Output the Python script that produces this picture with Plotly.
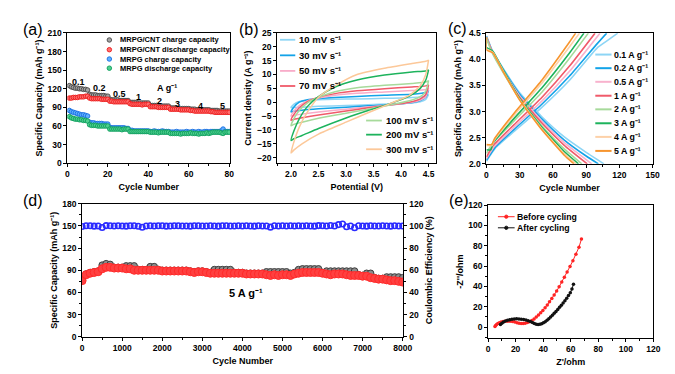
import plotly.graph_objects as go

W, H = 675, 374
FONT = "Liberation Sans, Arial, Helvetica, sans-serif"
SUP = "\u207b\u00b9"  # superscript minus one

# ---------------- (a) rate capability ----------------
cycle_a = list(range(1, 81))
cnt_charge = [125, 123, 122, 121, 121, 120, 120, 119, 119, 118,
              111, 110, 110, 110, 109, 109, 109, 109, 108, 108,
              103, 102, 102, 102, 102, 101, 101, 101, 101, 101,
              98, 98, 98, 98, 97, 97, 97, 97, 97, 97,
              93, 93, 93, 93, 93, 92, 92, 92, 92, 92,
              89, 89, 89, 89, 88, 88, 88, 88, 88, 88,
              87, 87, 87, 86, 86, 86, 86, 86, 86, 86,
              85, 85, 85, 85, 84, 84, 84, 84, 84, 84]
cnt_discharge = [105, 105, 106, 106, 106, 107, 107, 107, 108, 108,
                 105, 104, 104, 104, 104, 104, 103, 103, 103, 103,
                 100, 100, 99, 99, 99, 99, 99, 99, 99, 99,
                 96, 95, 95, 95, 95, 95, 94, 95, 95, 95,
                 91, 91, 91, 91, 90, 90, 90, 90, 90, 90,
                 87, 87, 87, 87, 87, 86, 86, 86, 86, 86,
                 85, 85, 84, 84, 84, 84, 84, 84, 84, 84,
                 83, 83, 82, 82, 82, 82, 82, 82, 82, 82]
mrpg_charge = [85, 83, 82, 81, 80, 79, 78, 78, 77, 76,
               66, 65, 65, 64, 64, 64, 64, 63, 63, 63,
               58, 57, 57, 57, 57, 57, 57, 57, 56, 56,
               53, 53, 52, 52, 52, 52, 52, 52, 52, 52,
               51, 51, 52, 51, 51, 51, 52, 51, 51, 51,
               50, 50, 50, 51, 50, 50, 50, 50, 51, 50,
               50, 51, 50, 50, 51, 50, 50, 51, 51, 50,
               51, 51, 51, 51, 51, 52, 55, 51, 51, 51]
mrpg_discharge = [75, 73, 72, 71, 71, 70, 70, 69, 69, 68,
                  62, 61, 61, 61, 60, 60, 60, 60, 60, 60,
                  55, 55, 55, 55, 55, 55, 54, 55, 55, 55,
                  51, 51, 51, 51, 51, 51, 51, 51, 51, 51,
                  50, 50, 50, 50, 49, 50, 50, 50, 50, 50,
                  48, 48, 48, 48, 48, 47, 48, 48, 48, 48,
                  49, 48, 48, 48, 47, 48, 48, 48, 49, 48,
                  49, 50, 50, 50, 50, 49, 48, 50, 50, 50]
rate_text = ["0.1", "0.2", "0.5", "1", "2", "3", "4", "5"]
rate_text_x = [5.7, 15.8, 25.8, 35.2, 45.8, 54.7, 66.0, 76.7]
rate_text_y = [131, 121, 112, 106, 100, 96, 92.5, 92.5]

# ---------------- (b) CV curves ----------------
cv_labels = ["10 mV s" + SUP, "30 mV s" + SUP, "50 mV s" + SUP, "70 mV s" + SUP,
             "100 mV s" + SUP, "200 mV s" + SUP, "300 mV s" + SUP]
cv_up_v = [2.0, 2.05, 2.15, 2.3, 2.5, 2.8, 3.2, 3.7, 4.2, 4.45, 4.5]
cv_down_v = [4.5, 4.45, 4.35, 4.15, 3.8, 3.4, 3.0, 2.5, 2.2, 2.05, 2.0]
cv_up_i = [
    [-2.0, -0.8, 0.3, 0.7, 0.9, 1.05, 1.2, 1.4, 1.7, 2.2, 2.8],
    [-3.5, -1.8, 0.0, 0.9, 1.3, 1.7, 2.1, 2.5, 2.9, 3.5, 4.3],
    [-5.0, -3.3, -1.2, 0.5, 1.5, 2.5, 3.2, 3.7, 4.2, 4.6, 5.0],
    [-6.5, -4.5, -2.0, 0.2, 1.8, 3.1, 4.1, 4.9, 5.5, 5.9, 6.2],
    [-8.5, -6.0, -3.0, -0.2, 1.8, 3.8, 5.2, 6.1, 6.8, 7.3, 7.8],
    [-13.8, -10.5, -6.0, -1.5, 2.0, 5.5, 8.0, 9.8, 10.9, 11.3, 11.6],
    [-18.3, -14.5, -9.0, -3.5, 1.8, 5.9, 10.0, 12.3, 14.0, 14.8, 15.2],
]
cv_down_i = [
    [2.8, 1.0, 0.2, -0.3, -0.6, -0.9, -1.2, -1.5, -1.8, -1.95, -2.0],
    [4.3, 1.8, 0.6, -0.3, -0.9, -1.3, -1.8, -2.4, -2.9, -3.3, -3.5],
    [5.0, 2.0, 0.8, -0.2, -1.0, -1.7, -2.5, -3.5, -4.3, -4.8, -5.0],
    [6.2, 2.8, 1.2, 0.0, -1.0, -2.0, -3.2, -4.6, -5.6, -6.2, -6.5],
    [7.8, 4.0, 2.0, 0.5, -1.0, -2.5, -4.0, -5.8, -7.2, -8.0, -8.5],
    [11.6, 8.0, 5.0, 2.2, -0.5, -3.0, -5.7, -9.5, -12.0, -13.2, -13.8],
    [15.2, 10.0, 6.0, 2.5, -0.5, -3.8, -7.2, -11.5, -15.0, -17.3, -18.3],
]
cv_colors = ["#8dd5f5", "#13a3e8", "#f8acc9", "#f05a6a", "#a7da9b", "#1db35c", "#fcc899"]

# ---------------- (c) charge / discharge ----------------
gcd_labels = ["0.1 A g" + SUP, "0.2 A g" + SUP, "0.5 A g" + SUP, "1 A g" + SUP,
              "2 A g" + SUP, "3 A g" + SUP, "4 A g" + SUP, "5 A g" + SUP]
chg_x = [[0, 8, 25, 50, 75, 100, 110, 118.5],
         [0, 8, 25, 50, 75, 100, 108.5],
         [0, 7, 25, 50, 75, 102.5],
         [0, 6, 25, 50, 75, 98],
         [0, 5, 25, 50, 75, 92],
         [0, 4, 6, 25, 50, 75, 88],
         [0, 5, 7, 25, 50, 75, 84],
         [0, 5, 7, 25, 50, 75, 80.5]]
chg_y = [[2.05, 2.3, 2.62, 3.08, 3.6, 4.22, 4.37, 4.5],
         [2.07, 2.32, 2.66, 3.14, 3.68, 4.3, 4.5],
         [2.1, 2.33, 2.7, 3.2, 3.77, 4.5],
         [2.13, 2.35, 2.75, 3.27, 3.87, 4.5],
         [2.2, 2.38, 2.82, 3.37, 4.02, 4.5],
         [2.27, 2.27, 2.4, 2.87, 3.45, 4.12, 4.5],
         [2.35, 2.35, 2.45, 2.93, 3.54, 4.24, 4.5],
         [2.37, 2.37, 2.47, 2.97, 3.6, 4.33, 4.5]]
dis_x = [[0, 5, 15, 30, 50, 70, 90, 106],
         [0, 5, 15, 30, 50, 70, 90, 101],
         [0, 5, 15, 30, 50, 70, 85, 95],
         [0, 5, 15, 30, 50, 70, 91],
         [0, 5, 15, 30, 50, 70, 86],
         [0, 0, 6, 15, 30, 50, 70, 83],
         [0, 0, 6, 15, 30, 50, 70, 81],
         [0, 0, 6, 15, 30, 50, 70, 79]]
dis_y = [[4.45, 4.18, 3.83, 3.36, 2.9, 2.52, 2.22, 2.0],
         [4.44, 4.17, 3.81, 3.33, 2.86, 2.46, 2.15, 2.0],
         [4.43, 4.16, 3.79, 3.3, 2.82, 2.41, 2.16, 2.0],
         [4.42, 4.15, 3.77, 3.27, 2.78, 2.36, 2.0],
         [4.4, 4.13, 3.75, 3.24, 2.73, 2.29, 2.0],
         [4.42, 4.23, 4.15, 3.8, 3.25, 2.7, 2.24, 2.0],
         [4.42, 4.2, 4.13, 3.78, 3.23, 2.67, 2.2, 2.0],
         [4.42, 4.18, 4.12, 3.77, 3.22, 2.65, 2.17, 2.0]]
gcd_colors = ["#8dd5f5", "#13a3e8", "#f8b2cd", "#f05a6a", "#a7da9b", "#1db35c", "#fdd1a8", "#f7952e"]

# ---------------- (d) long cycling at 5 A/g ----------------
cycle_d = list(range(0, 8001, 100))
d_charge = [77, 85, 87, 88, 89, 97, 99, 98, 94, 94,
            94, 96, 96, 96, 91, 91, 91, 95, 95, 91,
            90, 90, 90, 90, 90, 90, 90, 89, 88, 89,
            89, 88, 87, 91, 91, 91, 91, 91, 87, 87,
            87, 86, 86, 86, 86, 86, 88, 88, 88, 88,
            88, 88, 86, 87, 91, 92, 92, 92, 92, 92,
            87, 89, 89, 89, 89, 89, 89, 89, 89, 84,
            83, 86, 86, 80, 79, 79, 81, 81, 81, 81,
            80]
d_discharge = [76, 84, 86, 87, 88, 92, 94, 94, 93, 93,
               93, 92, 92, 90, 90, 90, 90, 90, 90, 90,
               89, 89, 89, 89, 89, 89, 89, 88, 87, 88,
               88, 87, 86, 86, 86, 86, 86, 86, 86, 86,
               86, 85, 85, 85, 85, 85, 84, 83, 84, 83,
               84, 84, 83, 85, 86, 87, 87, 87, 87, 87,
               86, 85, 84, 85, 85, 85, 84, 83, 83, 83,
               82, 82, 80, 79, 78, 78, 77, 76, 76, 75,
               74]
d_ce = [99.5, 100.2, 100.1, 99.8, 100.0, 98.6, 100.3, 100.1, 99.9, 100.2,
        100.0, 99.8, 100.1, 100.2, 99.7, 98.8, 100.0, 100.1, 99.9, 100.2,
        100.1, 99.8, 100.0, 100.2, 100.1, 99.9, 100.0, 99.8, 100.1, 100.2,
        100.0, 99.9, 100.1, 100.0, 99.8, 100.1, 100.2, 99.9, 100.0, 100.1,
        99.9, 100.1, 100.0, 99.8, 100.2, 100.0, 99.9, 98.9, 100.1, 100.0,
        100.2, 99.9, 100.1, 100.0, 100.2, 99.9, 100.1, 100.0, 99.8, 100.3,
        100.1, 100.0, 100.4, 99.9, 101.2, 101.8, 99.2, 100.0, 98.4, 100.1,
        100.0, 99.8, 100.1, 100.0, 99.9, 100.1, 100.0, 99.8, 100.1, 100.0,
        99.9]

# ---------------- (e) EIS ----------------
before_zr = [5.0, 5.5, 6.2, 7.1, 8.2, 9.5, 11.0, 12.6, 14.3, 16.0, 17.7, 19.4, 21.0, 22.5,
             24.0, 25.5, 27.0, 28.6, 30.2, 31.8, 33.4, 35.0, 36.6, 38.2, 39.8, 41.4, 43.0,
             44.6, 46.3, 48.0, 49.8, 51.6, 53.5, 55.4, 57.4, 59.5, 61.6, 63.8, 66.0, 67.8]
before_zi = [0.5, 1.6, 2.6, 3.5, 4.3, 4.9, 5.4, 5.7, 5.8, 5.7, 5.4, 4.9, 4.3, 3.8,
             3.5, 3.5, 3.8, 4.4, 5.3, 6.5, 8.0, 9.8, 11.8, 14.0, 16.4, 19.0, 21.8,
             24.8, 28.0, 31.5, 35.4, 39.6, 44.2, 49.0, 54.2, 59.6, 65.3, 71.5, 78.5, 86.5]
after_zr = [9.0, 10.0, 11.2, 12.6, 14.1, 15.7, 17.3, 19.0, 20.7, 22.4, 24.1, 25.8, 27.5,
            29.1, 30.7, 32.2, 33.6, 35.0, 36.3, 37.6, 38.9, 40.2, 41.5, 42.8, 44.1, 45.4,
            46.7, 48.0, 49.3, 50.6, 51.9, 53.2, 54.5, 55.8, 57.1, 58.4, 59.7, 60.9, 62.0]
after_zi = [2.6, 3.8, 4.9, 5.9, 6.7, 7.3, 7.7, 8.0, 8.1, 8.0, 7.8, 7.4, 6.9,
            6.2, 5.4, 4.5, 3.6, 2.9, 2.6, 2.7, 3.3, 4.2, 5.3, 6.6, 8.1, 9.8,
            11.6, 13.5, 15.4, 17.4, 19.4, 21.5, 23.7, 26.0, 28.4, 31.0, 33.8, 37.5, 42.0]

# ======================================================
fig = go.Figure()


def box(l, r, t, b):
    return [l / W, r / W], [1 - b / H, 1 - t / H]


XA, YA = box(58.3, 224.0, 20.5, 154.3)
XB, YB = box(271.7, 433.3, 20.5, 154.3)
XC, YC = box(484.3, 653.3, 20.7, 155.0)
XD, YD = box(73.3, 400.0, 196.0, 332.7)
XE, YE = box(486.0, 654.0, 197.3, 334.0)

# (a)
a_series = [(cnt_charge, "MRPG/CNT charge capacity", "#a3a3a3", "#484848"),
            (cnt_discharge, "MRPG/CNT discharge capacity", "#ff6e6e", "#ec1c1c"),
            (mrpg_charge, "MRPG charge capacity", "#5fb0ff", "#1a6ee0"),
            (mrpg_discharge, "MRPG discharge capacity", "#4fd08f", "#0f9e5e")]
for vals, name, fc, lc in a_series:
    fig.add_trace(go.Scatter(x=cycle_a, y=vals, mode="markers", name=name, showlegend=False,
                             marker=dict(size=4.6, color=fc, line=dict(color=lc, width=0.9)),
                             xaxis="x", yaxis="y"))

# (b)
for lab, vi_up, vi_dn, col in zip(cv_labels, cv_up_i, cv_down_i, cv_colors):
    fig.add_trace(go.Scatter(x=cv_up_v + cv_down_v, y=vi_up + vi_dn, mode="lines", name=lab,
                             showlegend=False, line=dict(color=col, width=1.5, shape="spline", smoothing=0.6),
                             xaxis="x2", yaxis="y2"))

# (c)
for lab, cx, cy, dx, dy, col in zip(gcd_labels, chg_x, chg_y, dis_x, dis_y, gcd_colors):
    fig.add_trace(go.Scatter(x=cx + [None] + dx, y=cy + [None] + dy, mode="lines", name=lab,
                             showlegend=False, connectgaps=False,
                             line=dict(color=col, width=1.6, shape="spline", smoothing=0.4),
                             xaxis="x3", yaxis="y3"))

# (d)
fig.add_trace(go.Scatter(x=cycle_d, y=d_charge, mode="markers", name="Charge capacity", showlegend=False,
                         marker=dict(size=6.5, color="#8c8c8c", line=dict(color="#3c3c3c", width=1)),
                         xaxis="x4", yaxis="y4"))
fig.add_trace(go.Scatter(x=cycle_d, y=d_discharge, mode="markers", name="Discharge capacity", showlegend=False,
                         marker=dict(size=8, color="#ff4040", line=dict(color="#ff2a2a", width=1)),
                         xaxis="x4", yaxis="y4"))
fig.add_trace(go.Scatter(x=cycle_d, y=d_ce, mode="markers", name="Coulombic efficiency", showlegend=False,
                         marker=dict(size=5.5, symbol="circle-open", color="#2b2bff", line=dict(width=1.6)),
                         xaxis="x4", yaxis="y6"))

# (e)
fig.add_trace(go.Scatter(x=before_zr, y=before_zi, mode="lines+markers", name="Before cycling", showlegend=False,
                         line=dict(color="#ff2424", width=1), marker=dict(size=3.5, color="#ff2424"),
                         xaxis="x5", yaxis="y5"))
fig.add_trace(go.Scatter(x=after_zr, y=after_zi, mode="lines+markers", name="After cycling", showlegend=False,
                         line=dict(color="#111111", width=1), marker=dict(size=3.5, color="#111111"),
                         xaxis="x5", yaxis="y5"))


def axis(domain, rng, dtick, anchor, title, standoff, minor_dtick=None, fmt=None, **kw):
    d = dict(domain=domain, range=rng, dtick=dtick, anchor=anchor,
             showline=True, linecolor="black", linewidth=1, mirror=True,
             ticks="outside", ticklen=3, tickwidth=1, tickcolor="black",
             showgrid=False, zeroline=False,
             tickfont=dict(family=FONT, size=8.5, color="black", weight="bold"),
             title=dict(text=title, standoff=standoff,
                        font=dict(family=FONT, size=9, color="black", weight="bold")))
    if minor_dtick:
        d["minor"] = dict(ticks="outside", ticklen=2, tickcolor="black", dtick=minor_dtick, showgrid=False)
    if fmt:
        d["tickformat"] = fmt
    d.update(kw)
    return d


CAP = "Specific Capacity (mAh g" + SUP + ")"
fig.update_layout(
    xaxis=axis(XA, [0, 80.6], 20, "y", "Cycle Number", 5, 10, tick0=0),
    yaxis=axis(YA, [0, 210], 30, "x", CAP, 3, tick0=0),
    xaxis2=axis(XB, [1.75, 4.64], 0.5, "y2", "Potential (V)", 5, 0.25, ".1f", tick0=2.0),
    yaxis2=axis(YB, [-22, 25], 5, "x2", "Current density (A g" + SUP + ")", 3, tick0=0),
    xaxis3=axis(XC, [0, 150], 30, "y3", "Cycle Number", 5, 15, tick0=0),
    yaxis3=axis(YC, [2.0, 4.5], 0.5, "x3", CAP, 5, None, ".1f", tick0=2.0),
    xaxis4=axis(XD, [0, 8020], 1000, "y4", "Cycle Number", 5, 500, tick0=0),
    yaxis4=axis(YD, [0, 180], 30, "x4", CAP, 3, 15, tick0=0),
    yaxis6=axis(YD, [0, 120], 20, "x4", "Coulombic Efficiency (%)", 3, 10, tick0=0,
                overlaying="y4", side="right"),
    xaxis5=axis(XE, [0, 120], 20, "y5", "Z'/ohm", 5, 10, tick0=0),
    yaxis5=axis(YE, [-10.8, 120], 20, "x5", "-Z''/ohm", 3, 10, tick0=0),
    width=W, height=H,
    margin=dict(l=0, r=0, t=0, b=0),
    paper_bgcolor="white", plot_bgcolor="white",
    showlegend=False,
)

# ---------- hand-drawn legends, panel labels and in-plot notes ----------
shapes, annots = [], []


def P(x, y):
    return x / W, 1 - y / H


def leg_line(x0, x1, y, color, width=2.0):
    shapes.append(dict(type="line", xref="paper", yref="paper", x0=x0 / W, x1=x1 / W,
                       y0=1 - y / H, y1=1 - y / H, line=dict(color=color, width=width)))


def leg_dot(x, y, r, fill, edge):
    shapes.append(dict(type="circle", xref="paper", yref="paper", x0=(x - r) / W, x1=(x + r) / W,
                       y0=1 - (y + r) / H, y1=1 - (y - r) / H, fillcolor=fill,
                       line=dict(color=edge, width=0.9)))


def label(x, y, s, size, bold=True, xanchor="left"):
    px, py = P(x, y)
    annots.append(dict(xref="paper", yref="paper", x=px, y=py, text=s, showarrow=False,
                       xanchor=xanchor, yanchor="middle", borderpad=0,
                       font=dict(family=FONT, size=size, color="black",
                                 weight="bold" if bold else "normal")))


# (a) legend
for (vals, name, fc, lc), yy in zip(a_series, [27.7, 37.7, 47.3, 56.7]):
    leg_dot(101, yy, 2.3, fc, lc)
    label(110.5, yy, name, 7.5)
# (a) rate labels
for t, x, y in zip(rate_text, rate_text_x, rate_text_y):
    annots.append(dict(xref="x", yref="y", x=x, y=y, text=t, showarrow=False,
                       font=dict(family=FONT, size=9, color="black", weight="bold")))
annots.append(dict(xref="x", yref="y", x=49.4, y=121, text="A g" + SUP, showarrow=False,
                   font=dict(family=FONT, size=9, color="black", weight="bold")))

# (b) legends
for i, yy in enumerate([27.5, 43.5, 59.5, 75.0]):
    leg_line(274.5, 290, yy, cv_colors[i], 1.8)
    label(293, yy, cv_labels[i], 9.5)
for i, yy in zip([4, 5, 6], [110.5, 125.0, 140.0]):
    leg_line(362, 378, yy, cv_colors[i], 1.8)
    label(381, yy, cv_labels[i], 9.5)

# (c) legend
for i, yy in enumerate([42.7, 56.7, 70.7, 85.0, 99.0, 113.3, 127.3, 141.7]):
    leg_line(595, 611.5, yy, gcd_colors[i], 2.0)
    label(613, yy, gcd_labels[i], 8.8)

# (d) note
annots.append(dict(xref="x4", yref="y4", x=4085, y=59, text="5 A g" + SUP, showarrow=False,
                   font=dict(family=FONT, size=11, color="black", weight="bold")))

# (e) legend
for (name, col), yy in zip([("Before cycling", "#ff2424"), ("After cycling", "#111111")], [209.3, 220.7]):
    leg_line(496, 513, yy, col, 1.0)
    leg_dot(504.5, yy, 1.7, col, col)
    label(514.5, yy, name, 8.7)

# panel labels
for t, x, y in [("(a)", 23, 17), ("(b)", 243, 17), ("(c)", 455, 16), ("(d)", 23, 193), ("(e)", 456, 193)]:
    label(x, y, t, 16, bold=False, xanchor="center")

fig.update_layout(shapes=shapes, annotations=annots)
fig.write_html("out.html")
